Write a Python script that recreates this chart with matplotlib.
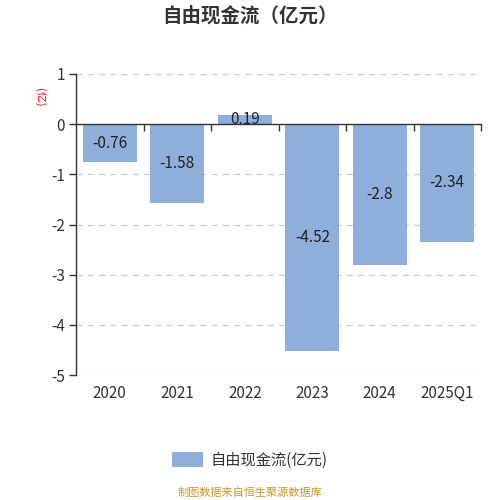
import matplotlib
matplotlib.use("Agg")
import matplotlib.pyplot as plt
from matplotlib.patches import Patch
from matplotlib.ticker import FixedLocator, NullFormatter

plt.rcParams['font.family'] = ['Noto Sans CJK SC', 'DejaVu Sans']

categories = ['2020', '2021', '2022', '2023', '2024', '2025Q1']
values = [-0.76, -1.58, 0.19, -4.52, -2.8, -2.34]
value_labels = ['-0.76', '-1.58', '0.19', '-4.52', '-2.8', '-2.34']
yticks = [1, 0, -1, -2, -3, -4, -5]

bar_color = '#8eaedc'
text_color = '#333333'

fig = plt.figure(figsize=(5, 5), dpi=100)
ax = fig.add_axes([0.152, 0.25, 0.81, 0.602])

x = list(range(len(categories)))
ax.bar(x, values, width=0.8, color=bar_color, zorder=2)
for xi, v, lab in zip(x, values, value_labels):
    ax.text(xi, v / 2, lab, ha='center', va='center', fontsize=11,
            color='#222222', zorder=4)

ymin, ymax = -5, 1
ax.set_ylim(ymin, ymax)
ax.set_xlim(-0.5, len(categories) - 0.5)
ax.set_yticks(yticks)
ax.set_yticklabels([str(t) for t in yticks], fontsize=11, color=text_color)
for t in yticks:
    if t != 0:
        ax.axhline(t, color='#cccccc', lw=0.9, ls=(0, (5, 4)), zorder=1)

# main x axis: spine at zero, boundary ticks pointing down, no labels
ax.spines['bottom'].set_position(('data', 0))
ax.spines['bottom'].set_color(text_color)
ax.spines['bottom'].set_linewidth(1)
ax.spines['bottom'].set_zorder(3)
ax.xaxis.set_major_locator(FixedLocator([i + 0.5 for i in x]))
ax.xaxis.set_major_formatter(NullFormatter())
ax.tick_params(axis='x', direction='out', length=5, width=1, color=text_color)

ax.tick_params(axis='y', length=5, width=1, color=text_color, pad=3)
for s in ['top', 'right']:
    ax.spines[s].set_visible(False)
ax.spines['left'].set_color(text_color)
ax.spines['left'].set_linewidth(1)

# category labels at the bottom of the plot area
sec = ax.secondary_xaxis('bottom')
sec.set_xticks(x)
sec.set_xticklabels(categories, fontsize=11, color=text_color)
sec.tick_params(axis='x', length=0, pad=7)
for s in sec.spines.values():
    s.set_visible(False)

ax.text(-0.089, 0.924, '(亿)', transform=ax.transAxes, rotation=-90,
        fontsize=8, color='red', ha='center', va='center')

fig.text(0.5, 0.968, '自由现金流（亿元）', ha='center', va='center',
         fontsize=14, fontweight='bold', color=text_color)

leg = fig.legend(handles=[Patch(facecolor=bar_color, label='自由现金流(亿元)')],
                 loc='center', bbox_to_anchor=(0.5, 0.08), frameon=False,
                 fontsize=11, handlelength=2.0, handleheight=1.2,
                 handletextpad=0.5)
for t in leg.get_texts():
    t.set_color(text_color)

fig.text(0.5, 0.014, '制图数据来自恒生聚源数据库', ha='center', va='center',
         fontsize=8, color='#c8962e')

fig.savefig('out.png', dpi=100)
